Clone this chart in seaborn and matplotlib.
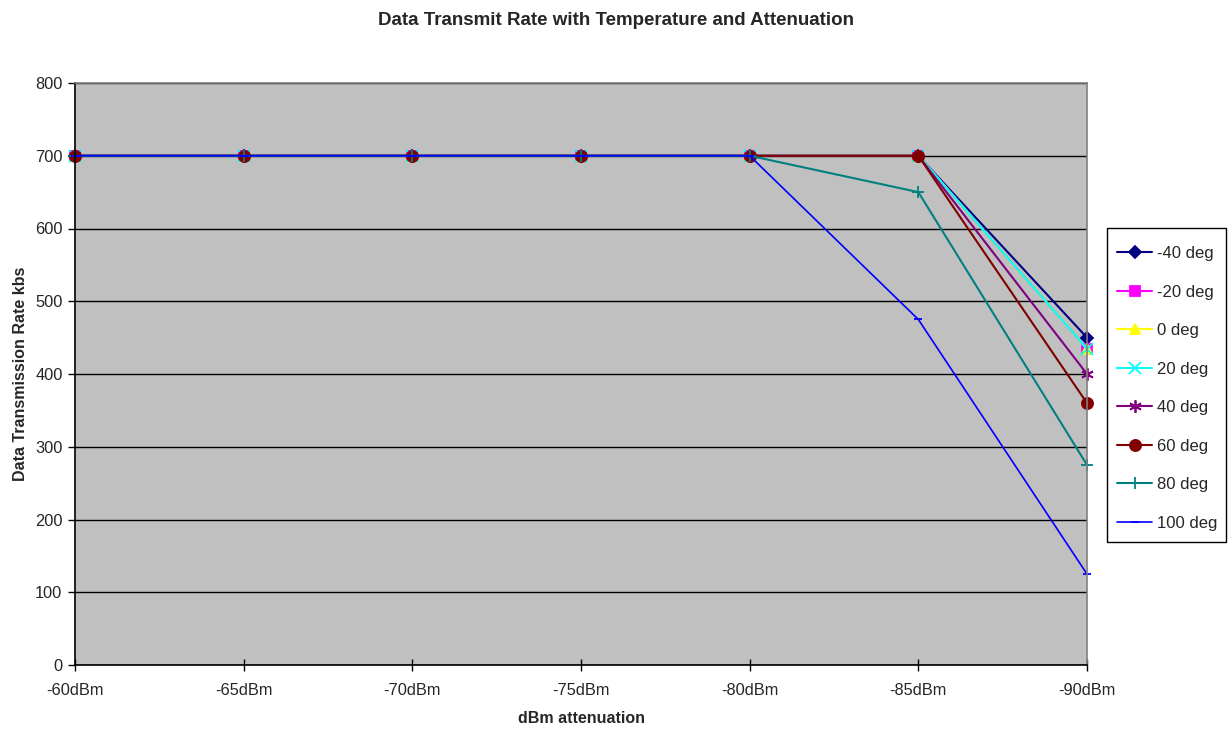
import matplotlib
matplotlib.use('Agg')
import matplotlib.pyplot as plt
from matplotlib.patches import Rectangle
import seaborn as sns
import pandas as pd

# data
attenuation = ['-60dBm', '-65dBm', '-70dBm', '-75dBm', '-80dBm', '-85dBm', '-90dBm']
series_names = ['-40 deg', '-20 deg', '0 deg', '20 deg', '40 deg', '60 deg', '80 deg', '100 deg']
rate_m40 = [700, 700, 700, 700, 700, 700, 450]
rate_m20 = [700, 700, 700, 700, 700, 700, 435]
rate_0 = [700, 700, 700, 700, 700, 700, 435]
rate_20 = [700, 700, 700, 700, 700, 700, 435]
rate_40 = [700, 700, 700, 700, 700, 700, 400]
rate_60 = [700, 700, 700, 700, 700, 700, 360]
rate_80 = [700, 700, 700, 700, 700, 650, 275]
rate_100 = [700, 700, 700, 700, 700, 475, 125]
y_ticks = [0, 100, 200, 300, 400, 500, 600, 700, 800]

all_rates = [rate_m40, rate_m20, rate_0, rate_20, rate_40, rate_60, rate_80, rate_100]
rows = []
for name, vals in zip(series_names, all_rates):
    for i, v in enumerate(vals):
        rows.append({'pos': i, 'rate': v, 'series': name})
df = pd.DataFrame(rows)

colors = {'-40 deg': '#000080', '-20 deg': '#FF00FF', '0 deg': '#FFFF00',
          '20 deg': '#00FFFF', '40 deg': '#800080', '60 deg': '#800000',
          '80 deg': '#008080', '100 deg': '#0000FF'}
markers = {'-40 deg': 'D', '-20 deg': 's', '0 deg': '^', '20 deg': 'x',
           '40 deg': (6, 2, 0), '60 deg': 'o', '80 deg': '+', '100 deg': '_'}
msizes = {'-40 deg': 6, '-20 deg': 7, '0 deg': 7, '20 deg': 8,
          '40 deg': 9, '60 deg': 8, '80 deg': 9, '100 deg': 6}

sns.set_style('white')
plt.rcParams['font.family'] = ['Liberation Sans', 'DejaVu Sans']

fig = plt.figure(figsize=(12.31, 7.29), dpi=100)
ax = fig.add_axes([75 / 1231, 64 / 729, 1012 / 1231, 582 / 729])
ax.set_facecolor('#C0C0C0')

for name in series_names:
    sub = df[df['series'] == name]
    lw = 1.2 if name == '100 deg' else 1.5
    sns.lineplot(data=sub, x='pos', y='rate', ax=ax, color=colors[name],
                 marker=markers[name], markersize=msizes[name],
                 markeredgecolor=colors[name], markerfacecolor=colors[name],
                 markeredgewidth=1.3, linewidth=lw, label=name, clip_on=False)

ax.set_xlim(0, len(attenuation) - 1)
ax.set_ylim(0, 800)
ax.set_xticks(range(len(attenuation)))
ax.set_xticklabels(attenuation, fontsize=11.8)
ax.set_yticks(y_ticks)
ax.set_yticklabels([str(t) for t in y_ticks], fontsize=11.8)
ax.yaxis.grid(True, color='black', linewidth=1)
ax.xaxis.grid(False)
ax.set_axisbelow(True)
ax.tick_params(axis='y', direction='out', length=5, width=1, color='black', pad=4, left=True)
ax.tick_params(axis='x', direction='inout', length=8, width=1, color='black', pad=9, bottom=True)

for side in ['left', 'bottom']:
    ax.spines[side].set_color('black')
    ax.spines[side].set_linewidth(1.2)
for side in ['top', 'right']:
    ax.spines[side].set_color('#808080')
    ax.spines[side].set_linewidth(1.2)

ax.set_xlabel('dBm attenuation', fontsize=11.5, fontweight='bold', labelpad=9)
ax.set_ylabel('Data Transmission Rate kbs', fontsize=11.5, fontweight='bold', labelpad=5)
fig.suptitle('Data Transmit Rate with Temperature and Attenuation',
             fontsize=13.5, fontweight='bold', y=0.984)

# legend entries without frame, the Excel-like box drawn separately
leg = ax.legend(loc='center left', bbox_to_anchor=(1117 / 1231, 1 - 388.5 / 729),
                bbox_transform=fig.transFigure, frameon=False,
                fontsize=12, handlelength=2.1, labelspacing=1.41,
                borderpad=0, handletextpad=0.3, borderaxespad=0)
fig.add_artist(Rectangle((1107 / 1231, 1 - 542 / 729), 119 / 1231, 314 / 729,
                         transform=fig.transFigure, fill=False,
                         edgecolor='black', linewidth=1))

fig.savefig('out.png', dpi=100, facecolor='white')
